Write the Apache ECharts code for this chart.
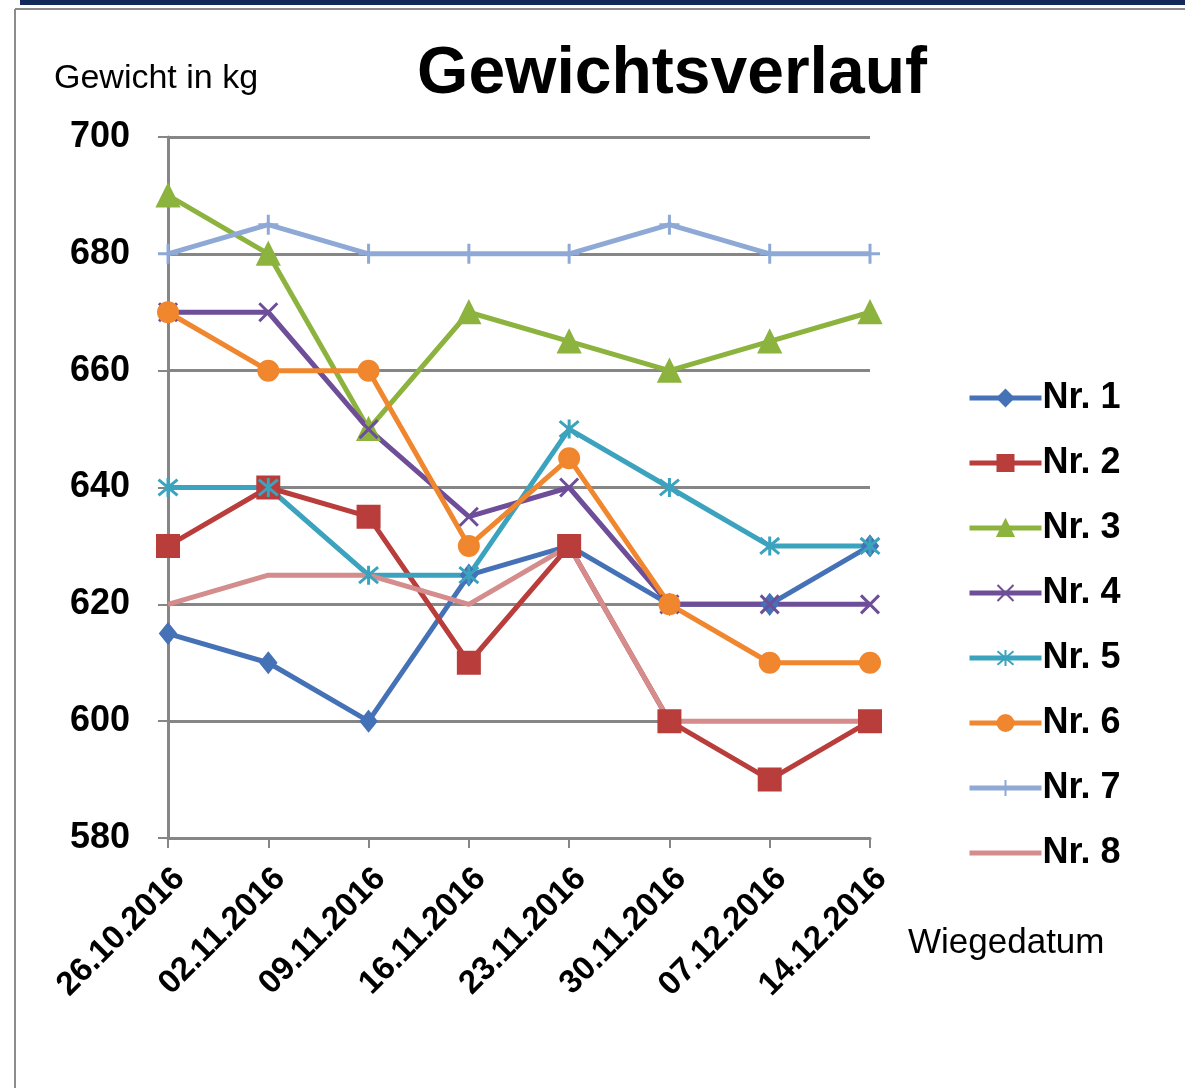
<!DOCTYPE html>
<html>
<head>
<meta charset="utf-8">
<script src="https://cdn.jsdelivr.net/npm/echarts@6/dist/echarts.min.js"></script>
<style>
  body { margin: 0; background: #fff; }
  #main { width: 1185px; height: 1088px; }
</style>
</head>
<body>
<div id="main"></div>
<script>
  // Wiegedaten
  var dates = ['26.10.2016', '02.11.2016', '09.11.2016', '16.11.2016', '23.11.2016', '30.11.2016', '07.12.2016', '14.12.2016'];
  var nr1 = [615, 610, 600, 625, 630, 620, 620, 630];
  var nr2 = [630, 640, 635, 610, 630, 600, 590, 600];
  var nr3 = [690, 680, 650, 670, 665, 660, 665, 670];
  var nr4 = [670, 670, 650, 635, 640, 620, 620, 620];
  var nr5 = [640, 640, 625, 625, 650, 640, 630, 630];
  var nr6 = [670, 660, 660, 630, 645, 620, 610, 610];
  var nr7 = [680, 685, 680, 680, 680, 685, 680, 680];
  var nr8 = [620, 625, 625, 620, 630, 600, 600, 600];

  var font = '"Liberation Sans", Arial, sans-serif';

  function line(name, data, color, symbol, size, bw) {
    return {
      name: name,
      type: 'line',
      data: data,
      symbol: symbol,
      symbolSize: size,
      showSymbol: symbol !== 'none',
      lineStyle: { color: color, width: 5 },
      itemStyle: { color: color, borderColor: color, borderWidth: bw || 2 },
      emphasis: { disabled: true }
    };
  }

  var chart = echarts.init(document.getElementById('main'));
  chart.setOption({
    animation: false,
    title: {
      text: 'Gewichtsverlauf',
      left: 667,
      textAlign: 'center',
      top: 37,
      textStyle: { fontFamily: font, fontWeight: 'bold', fontSize: 66, color: '#000' }
    },
    legend: {
      orient: 'vertical',
      left: 962,
      top: 375,
      itemWidth: 72,
      itemHeight: 20,
      itemGap: 29,
      lineStyle: { width: 5 },
      textStyle: { fontFamily: font, fontWeight: 'bold', fontSize: 36, color: '#000', padding: [0, 0, 0, -4] },
      data: ['Nr. 1', 'Nr. 2', 'Nr. 3', 'Nr. 4', 'Nr. 5', 'Nr. 6', 'Nr. 7',
        { name: 'Nr. 8', itemStyle: { opacity: 0 } }]
    },
    grid: { left: 168, right: 315, top: 137, bottom: 250 },
    xAxis: {
      type: 'category',
      data: dates,
      boundaryGap: false,
      axisLine: { lineStyle: { color: '#868686', width: 3 } },
      axisTick: { show: true, length: 10, alignWithLabel: true, lineStyle: { color: '#868686', width: 2 } },
      axisLabel: { rotate: 45, margin: 24, verticalAlign: 'top', interval: 0, fontFamily: font, fontWeight: 'bold', fontSize: 33, color: '#000' }
    },
    yAxis: {
      type: 'value',
      min: 580,
      max: 700,
      interval: 20,
      axisLine: { show: true, lineStyle: { color: '#868686', width: 3 } },
      axisTick: { show: true, length: 10, lineStyle: { color: '#868686', width: 2 } },
      axisLabel: { margin: 38, fontFamily: font, fontWeight: 'bold', fontSize: 36, color: '#000' },
      splitLine: { lineStyle: { color: '#868686', width: 3 } }
    },
    graphic: [
      { type: 'rect', shape: { x: 20, y: 0, width: 1165, height: 5 }, style: { fill: '#12295a' } },
      { type: 'line', shape: { x1: 15, y1: 9, x2: 1185, y2: 9 }, style: { stroke: '#8c8c8c', lineWidth: 2 } },
      { type: 'line', shape: { x1: 15, y1: 9, x2: 15, y2: 1088 }, style: { stroke: '#8c8c8c', lineWidth: 2 } },
      { type: 'text', left: 54, top: 62, style: { text: 'Gewicht in kg', font: '34px ' + font, fill: '#000' } },
      { type: 'text', left: 908, top: 926, style: { text: 'Wiegedatum', font: '35px ' + font, fill: '#000' } }
    ],
    series: [
      line('Nr. 1', nr1, '#4572B7', 'diamond', [16, 20]),
      line('Nr. 2', nr2, '#B83D3B', 'rect', 22),
      line('Nr. 3', nr3, '#8DB33F', 'triangle', 22),
      line('Nr. 4', nr4, '#6E4E99', 'path://M0,0L10,10M10,0L0,10', 18, 3),
      line('Nr. 5', nr5, '#3BA3BE', 'path://M0,0L10,10M10,0L0,10M5,-1L5,11', 19, 3),
      line('Nr. 6', nr6, '#F0862D', 'circle', 20),
      line('Nr. 7', nr7, '#8FA9D6', 'path://M5,0L5,10M0,5L10,5', 20, 3),
      line('Nr. 8', nr8, '#D48C8C', 'none', 0)
    ]
  });
</script>
</body>
</html>
